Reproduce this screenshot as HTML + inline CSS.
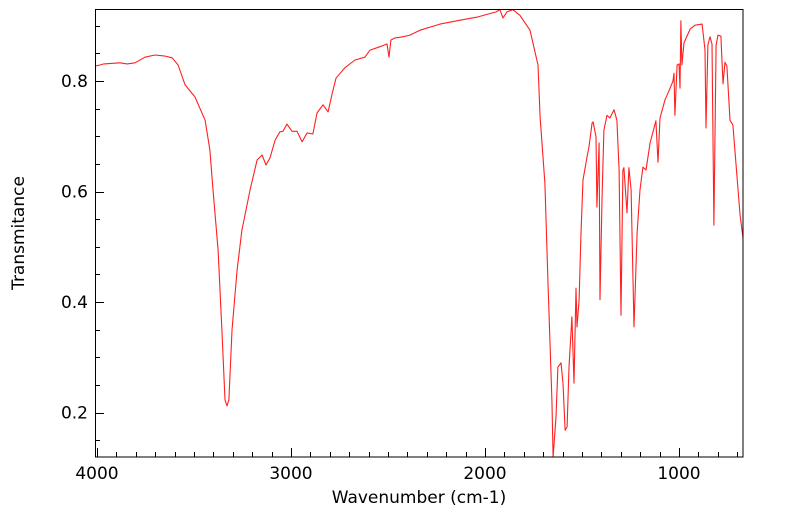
<!DOCTYPE html>
<html><head><meta charset="utf-8"><style>
html,body{margin:0;padding:0;background:#fff;}
svg{display:block;font-family:"DejaVu Sans","Liberation Sans",sans-serif;}
</style></head><body>
<svg id="chart" width="799" height="516" viewBox="0 0 799 516" xmlns="http://www.w3.org/2000/svg">
<g id="axes"></g>
<clipPath id="clip"><rect x="95" y="9" width="648" height="448"/></clipPath>
<path id="spectrum" fill="none" stroke="#ff2020" stroke-width="1.1" stroke-linejoin="round" clip-path="url(#clip)"/>
<rect x="95.5" y="9.5" width="647.5" height="447.5" fill="none" stroke="#000" stroke-width="1"/>
<text x="419" y="503" font-size="17" text-anchor="middle">Wavenumber (cm-1)</text>
<text x="24" y="233" font-size="17" text-anchor="middle" transform="rotate(-90 24 233)">Transmitance</text>
</svg>
<script>
const wavenumbers = [4010,3985,3964,3881,3845,3804,3753,3701,3649,3613,3582,3546,3495,3443,3418,3402,3376,3356,3340,3330,3320,3304,3278,3253,3211,3175,3149,3129,3108,3082,3057,3041,3021,2995,2969,2943,2917,2887,2866,2835,2809,2789,2768,2722,2670,2619,2593,2541,2505,2495,2485,2464,2423,2387,2335,2232,2129,2036,1943,1923,1907,1887,1856,1820,1768,1727,1716,1691,1675,1655,1649,1634,1624,1608,1598,1587,1577,1567,1552,1541,1531,1526,1515,1505,1495,1474,1464,1448,1443,1428,1423,1412,1407,1397,1387,1371,1356,1335,1320,1309,1299,1289,1284,1268,1258,1247,1232,1216,1201,1186,1170,1149,1119,1108,1098,1072,1046,1031,1026,1021,1010,1000,995,990,985,974,943,917,881,866,861,851,840,830,820,809,799,784,773,763,753,737,722,685,670];
const transmittance = [.827,.829,.831,.833,.831,.833,.843,.847,.845,.842,.829,.793,.771,.729,.675,.603,.494,.349,.223,.212,.223,.349,.458,.530,.603,.657,.666,.648,.661,.693,.708,.709,.722,.709,.709,.690,.706,.704,.742,.757,.744,.775,.805,.824,.838,.843,.856,.862,.867,.843,.874,.878,.880,.883,.892,.903,.910,.916,.925,.929,.914,.925,.929,.919,.892,.829,.735,.615,.434,.223,.119,.192,.282,.290,.253,.168,.174,.282,.373,.253,.425,.355,.404,.525,.621,.662,.681,.724,.726,.699,.572,.688,.404,.585,.711,.738,.733,.748,.729,.639,.376,.639,.643,.561,.643,.603,.355,.525,.603,.644,.639,.688,.728,.653,.733,.766,.787,.800,.814,.738,.829,.831,.787,.909,.829,.869,.894,.901,.903,.856,.715,.865,.880,.867,.539,.865,.883,.881,.795,.834,.827,.729,.720,.557,.516];
const yTicks = [0.2,0.4,0.6,0.8];
const yTickLabels = ["0.2","0.4","0.6","0.8"];
const xTicks = [4000,3000,2000,1000];
const xTickLabels = ["4000","3000","2000","1000"];

function xs(w){return 97+(4000-w)*0.194;}
function ys(t){return 81-(t-0.8)*552.5;}
const NS="http://www.w3.org/2000/svg";
const axes=document.getElementById('axes');
function line(x1,y1,x2,y2,name){
  const l=document.createElementNS(NS,'line');
  l.setAttribute('x1',x1);l.setAttribute('y1',y1);l.setAttribute('x2',x2);l.setAttribute('y2',y2);
  l.setAttribute('stroke','#000');l.setAttribute('stroke-width','1');
  
  
  axes.appendChild(l);
}
function txt(x,y,s,anchor,name){
  const t=document.createElementNS(NS,'text');
  t.setAttribute('x',x);t.setAttribute('y',y);t.setAttribute('font-size','17');t.setAttribute('text-anchor',anchor);
  t.textContent=s;
  
  
  axes.appendChild(t);
}
for(let v=0.15;v<=0.93;v+=0.05){
  const y=Math.round(ys(v))+0.5;
  if(y<10||y>456) continue;
  const major=Math.abs(v*10-Math.round(v*10))<0.01 && Math.round(v*10)%2===0;
  line(95,y,major?104:100,y,'y-tick');
}
yTicks.forEach((v,i)=>txt(88,ys(v)+6,yTickLabels[i],'end','y-tick-label'));
for(let w=700;w<=4000;w+=100){
  const x=Math.round(xs(w))+0.5;
  if(x>742) continue;
  const major=w%1000===0;
  line(x,457,x,major?448:452,'x-tick');
}
xTicks.forEach((w,i)=>txt(xs(w),479,xTickLabels[i],'middle','x-tick-label'));
let d='';
wavenumbers.forEach((w,i)=>{d+=(i?'L':'M')+xs(w).toFixed(1)+','+ys(transmittance[i]).toFixed(1);});
document.getElementById('spectrum').setAttribute('d',d);
</script>
</body></html>
